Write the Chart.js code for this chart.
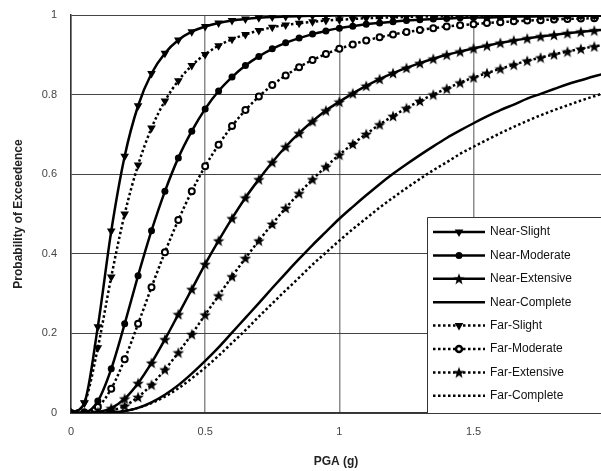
<!DOCTYPE html>
<html>
<head>
<meta charset="utf-8">
<script src="https://cdn.jsdelivr.net/npm/chart.js@4.4.1/dist/chart.umd.min.js"></script>
<style>
  html, body { margin: 0; padding: 0; background: #fff; overflow: hidden; }
  #wrap { width: 601px; height: 471px; position: relative; }
  canvas { display: block; }
</style>
</head>
<body>
<div id="wrap"><canvas id="fragility"></canvas></div>
<script>
// PGA (g) sample points
var pga = [0, 0.05, 0.1, 0.15, 0.2, 0.25, 0.3, 0.35, 0.4, 0.45,
  0.5, 0.55, 0.6, 0.65, 0.7, 0.75, 0.8, 0.85, 0.9, 0.95,
  1.0, 1.05, 1.1, 1.15, 1.2, 1.25, 1.3, 1.35, 1.4, 1.45,
  1.5, 1.55, 1.6, 1.65, 1.7, 1.75, 1.8, 1.85, 1.9, 1.95, 2.0];

var nearSlight = [0, 0.026, 0.217, 0.457, 0.645, 0.772, 0.853, 0.904, 0.937, 0.958,
  0.971, 0.980, 0.986, 0.990, 0.993, 0.995, 0.996, 0.997, 0.998, 0.998,
  0.999, 0.999, 0.999, 0.999, 0.999, 0.999, 1, 1, 1, 1,
  1, 1, 1, 1, 1, 1, 1, 1, 1, 1, 1];
var nearModerate = [0, 0.001, 0.030, 0.111, 0.224, 0.345, 0.458, 0.557, 0.641, 0.708,
  0.764, 0.809, 0.844, 0.873, 0.896, 0.915, 0.930, 0.942, 0.952, 0.960,
  0.967, 0.972, 0.977, 0.980, 0.983, 0.986, 0.988, 0.990, 0.991, 0.993,
  0.994, 0.994, 0.995, 0.996, 0.996, 0.997, 0.997, 0.998, 0.998, 0.998, 0.998];
var nearExtensive = [0, 0, 0.002, 0.012, 0.036, 0.075, 0.126, 0.185, 0.248, 0.311,
  0.374, 0.433, 0.489, 0.541, 0.587, 0.630, 0.669, 0.703, 0.733, 0.760,
  0.782, 0.803, 0.822, 0.839, 0.854, 0.867, 0.879, 0.890, 0.900, 0.908,
  0.916, 0.923, 0.930, 0.936, 0.941, 0.946, 0.950, 0.954, 0.958, 0.961, 0.964];
var nearComplete = [0, 0, 0, 0.001, 0.005, 0.013, 0.027, 0.046, 0.070, 0.099,
  0.131, 0.165, 0.202, 0.239, 0.276, 0.314, 0.351, 0.387, 0.422, 0.455,
  0.488, 0.518, 0.547, 0.575, 0.601, 0.625, 0.648, 0.670, 0.691, 0.710,
  0.728, 0.745, 0.761, 0.775, 0.790, 0.802, 0.814, 0.826, 0.836, 0.846, 0.855];
var farSlight = [0, 0.025, 0.164, 0.342, 0.500, 0.623, 0.716, 0.784, 0.835, 0.873,
  0.901, 0.923, 0.939, 0.951, 0.961, 0.969, 0.975, 0.979, 0.983, 0.986,
  0.988, 0.990, 0.992, 0.993, 0.994, 0.995, 0.996, 0.996, 0.997, 0.997,
  0.998, 0.998, 0.998, 0.998, 0.999, 0.999, 0.999, 0.999, 0.999, 0.999, 0.999];
var farModerate = [0, 0.001, 0.015, 0.061, 0.135, 0.224, 0.316, 0.404, 0.485, 0.557,
  0.620, 0.674, 0.721, 0.761, 0.795, 0.824, 0.848, 0.869, 0.887, 0.902,
  0.915, 0.926, 0.936, 0.944, 0.951, 0.957, 0.962, 0.967, 0.971, 0.974,
  0.977, 0.980, 0.982, 0.984, 0.986, 0.987, 0.989, 0.990, 0.991, 0.992, 0.993];
var farExtensive = [0, 0, 0.001, 0.006, 0.018, 0.040, 0.071, 0.109, 0.152, 0.198,
  0.247, 0.295, 0.343, 0.389, 0.433, 0.475, 0.515, 0.552, 0.587, 0.619,
  0.649, 0.676, 0.701, 0.725, 0.746, 0.766, 0.784, 0.800, 0.815, 0.830,
  0.843, 0.854, 0.865, 0.875, 0.885, 0.893, 0.901, 0.908, 0.915, 0.921, 0.926];
var farComplete = [0, 0, 0, 0.001, 0.005, 0.013, 0.025, 0.041, 0.062, 0.087,
  0.114, 0.144, 0.176, 0.208, 0.242, 0.275, 0.308, 0.340, 0.373, 0.403,
  0.433, 0.462, 0.489, 0.516, 0.541, 0.565, 0.588, 0.610, 0.630, 0.651,
  0.669, 0.686, 0.703, 0.719, 0.734, 0.748, 0.761, 0.773, 0.785, 0.796, 0.807];

var yTicks = [0, 0.2, 0.4, 0.6, 0.8, 1];
var xTicks = [0, 0.5, 1, 1.5];

var FONT = '"Liberation Sans", Arial, Helvetica, sans-serif';

// filled five point star used as marker
function makeStar(size) {
  var c = document.createElement('canvas');
  c.width = size; c.height = size;
  var g = c.getContext('2d');
  var cx = size / 2, cy = size / 2 + 0.6, ro = size / 2, ri = ro * 0.42;
  g.beginPath();
  for (var i = 0; i < 10; i++) {
    var r = (i % 2 === 0) ? ro : ri;
    var a = -Math.PI / 2 + i * Math.PI / 5;
    var px = cx + r * Math.cos(a), py = cy + r * Math.sin(a);
    if (i === 0) g.moveTo(px, py); else g.lineTo(px, py);
  }
  g.closePath();
  g.fillStyle = '#000';
  g.fill();
  return c;
}
var star = makeStar(12);

function series(label, vals, dotted, marker) {
  var ds = {
    label: label,
    data: pga.map(function(x, i) { return { x: x, y: vals[i] }; }),
    borderColor: '#000',
    backgroundColor: '#000',
    borderWidth: 2.5,
    borderDash: dotted ? [2.5, 2.5] : [],
    cubicInterpolationMode: 'monotone',
    pointRadius: 0,
    pointHoverRadius: 0
  };
  if (marker === 'tri') {
    ds.pointStyle = 'triangle'; ds.pointRotation = 180; ds.pointRadius = 5;
    ds.pointBackgroundColor = '#000'; ds.pointBorderWidth = 0;
  } else if (marker === 'dot') {
    ds.pointStyle = 'circle'; ds.pointRadius = 3.5;
    ds.pointBackgroundColor = '#000'; ds.pointBorderWidth = 0;
  } else if (marker === 'ring') {
    ds.pointStyle = 'circle'; ds.pointRadius = 3;
    ds.pointBackgroundColor = '#fff'; ds.pointBorderColor = '#000'; ds.pointBorderWidth = 2;
  } else if (marker === 'star') {
    ds.pointStyle = star; ds.pointRadius = 6;
  }
  return ds;
}

var datasets = [
  series('Near-Slight', nearSlight, false, 'tri'),
  series('Near-Moderate', nearModerate, false, 'dot'),
  series('Near-Extensive', nearExtensive, false, 'star'),
  series('Near-Complete', nearComplete, false, null),
  series('Far-Slight', farSlight, true, 'tri'),
  series('Far-Moderate', farModerate, true, 'ring'),
  series('Far-Extensive', farExtensive, true, 'star'),
  series('Far-Complete', farComplete, true, null)
];

// legend box in the lower right corner of the plot
var boxLegend = {
  id: 'boxLegend',
  afterDatasetsDraw: function(chart) {
    var ctx = chart.ctx, area = chart.chartArea;
    var left = 427.5, top = 217.5;
    ctx.save();
    ctx.fillStyle = '#fff';
    ctx.fillRect(left, top, area.right - left + 2, area.bottom - top);
    ctx.strokeStyle = '#333';
    ctx.lineWidth = 1;
    ctx.beginPath();
    ctx.moveTo(area.right + 2, top);
    ctx.lineTo(left, top);
    ctx.lineTo(left, area.bottom);
    ctx.stroke();

    chart.data.datasets.forEach(function(ds, i) {
      var y = 232 + i * 23.4;
      ctx.strokeStyle = '#000';
      ctx.lineWidth = 2.5;
      ctx.setLineDash(ds.borderDash);
      ctx.beginPath();
      ctx.moveTo(433, y);
      ctx.lineTo(485, y);
      ctx.stroke();
      ctx.setLineDash([]);
      if (ds.pointRadius > 0) {
        ctx.fillStyle = ds.pointBackgroundColor || '#000';
        ctx.strokeStyle = ds.pointBorderColor || '#000';
        Chart.helpers.drawPoint(ctx, {
          pointStyle: ds.pointStyle,
          radius: ds.pointRadius,
          rotation: ds.pointRotation || 0,
          borderWidth: ds.pointBorderWidth || 0
        }, 459, y);
      }
      ctx.fillStyle = '#111';
      ctx.font = '12px ' + FONT;
      ctx.textBaseline = 'middle';
      ctx.textAlign = 'left';
      ctx.fillText(ds.label, 490, y);
    });
    ctx.restore();
  }
};

new Chart(document.getElementById('fragility'), {
  type: 'line',
  data: { datasets: datasets },
  options: {
    responsive: true,
    maintainAspectRatio: false,
    animation: false,
    layout: { autoPadding: false, padding: { top: 15, right: 0, left: 11, bottom: 2 } },
    plugins: { legend: { display: false }, tooltip: { enabled: false } },
    scales: {
      x: {
        type: 'linear',
        min: 0,
        max: 1.975,
        afterFit: function(scale) {
          scale.height = 56;
          scale.paddingLeft = 0;
          scale.paddingRight = 0;
        },
        afterBuildTicks: function(scale) {
          scale.ticks = xTicks.map(function(v) { return { value: v }; });
        },
        ticks: {
          padding: 12,
          color: '#444',
          font: { family: FONT, size: 11 },
          callback: function(v) { return String(v); }
        },
        grid: { color: '#8c8c8c', lineWidth: 1.5, drawTicks: false },
        border: { color: '#333', width: 1.5 },
        title: {
          display: true,
          text: 'PGA (g)',
          color: '#222',
          font: { family: FONT, size: 12, weight: 'bold' },
          padding: { top: 0, bottom: 0 }
        }
      },
      y: {
        min: 0,
        max: 1,
        afterFit: function(scale) {
          scale.width = 60;
          scale.paddingTop = 0;
          scale.paddingBottom = 0;
        },
        afterBuildTicks: function(scale) {
          scale.ticks = yTicks.map(function(v) { return { value: v }; });
        },
        ticks: {
          padding: 14,
          color: '#444',
          font: { family: FONT, size: 11 },
          callback: function(v) { return String(v); }
        },
        grid: { color: '#444', lineWidth: 1, drawTicks: false },
        border: { color: '#333', width: 1.5 },
        title: {
          display: true,
          text: 'Probability of Exceedence',
          color: '#222',
          font: { family: FONT, size: 12, weight: 'bold' },
          padding: { top: 0, bottom: 0 }
        }
      }
    }
  },
  plugins: [boxLegend]
});
</script>
</body>
</html>
